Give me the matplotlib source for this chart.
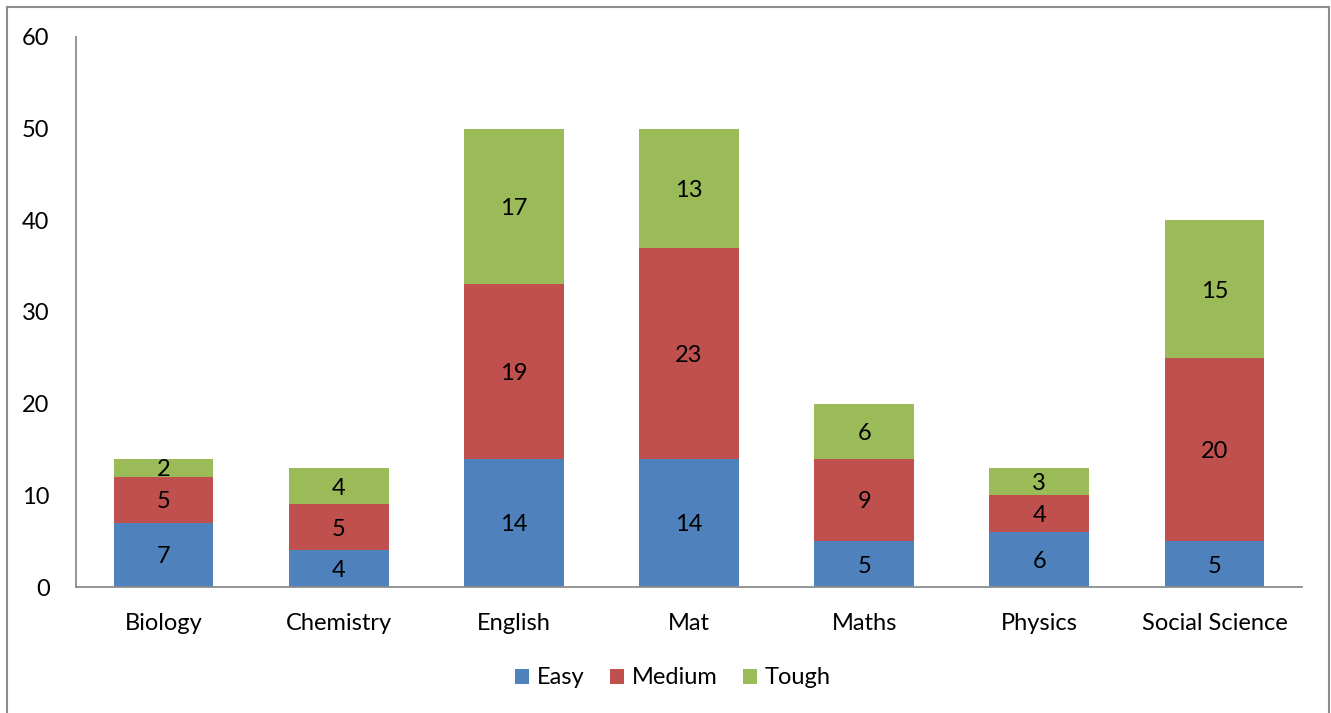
import matplotlib
matplotlib.use("Agg")
import matplotlib.pyplot as plt
from matplotlib.patches import Rectangle
import numpy as np

categories = ["Biology", "Chemistry", "English", "Mat", "Maths", "Physics", "Social Science"]
easy = [7, 4, 14, 14, 5, 6, 5]
medium = [5, 5, 19, 23, 9, 4, 20]
tough = [2, 4, 17, 13, 6, 3, 15]
series_names = ["Easy", "Medium", "Tough"]
yticks = [0, 10, 20, 30, 40, 50, 60]

colors = ["#4F81BD", "#C0504D", "#9BBB59"]
plt.rcParams['font.family'] = ['Lato', 'DejaVu Sans']

W, H = 1331, 713
fig = plt.figure(figsize=(W / 100, H / 100), dpi=100)
ax = fig.add_axes([76 / W, 1 - 587 / H, (1302 - 76) / W, (587 - 37) / H])

FS = 17
x = np.arange(len(categories))
bottom = np.zeros(len(categories))
for name, vals, c in zip(series_names, [easy, medium, tough], colors):
    bars = ax.bar(x, vals, width=0.57, bottom=bottom, color=c, label=name, zorder=2)
    for b, v, bt in zip(bars, vals, bottom):
        ax.text(b.get_x() + b.get_width() / 2, bt + v / 2, str(v),
                ha="center", va="center_baseline", fontsize=FS, color="black")
    bottom = bottom + np.array(vals)

ax.set_xlim(-0.5, len(categories) - 0.5)
ax.set_ylim(0, 60)
ax.set_yticks(yticks)
ax.set_xticks(x)
ax.set_xticklabels(categories)
ax.tick_params(axis="both", length=0, labelsize=FS, colors="black")
ax.tick_params(axis="y", pad=19)
ax.tick_params(axis="x", pad=19)
for s in ["top", "right"]:
    ax.spines[s].set_visible(False)
for s in ["left", "bottom"]:
    ax.spines[s].set_color("#8C8C8C")
    ax.spines[s].set_linewidth(1.3)

leg = fig.legend(loc="center", bbox_to_anchor=(673 / W, 1 - 678 / H), ncol=3,
                 frameon=False, fontsize=FS, handlelength=0.6, handleheight=0.6,
                 handletextpad=0.35, columnspacing=1.05)

fig.patches.append(Rectangle((7 / W, -0.05), (1329 - 7) / W, 1.05 - 7 / H,
                             transform=fig.transFigure, fill=False,
                             edgecolor="#8C8C8C", linewidth=1.5))

fig.savefig("out.png", dpi=100)
